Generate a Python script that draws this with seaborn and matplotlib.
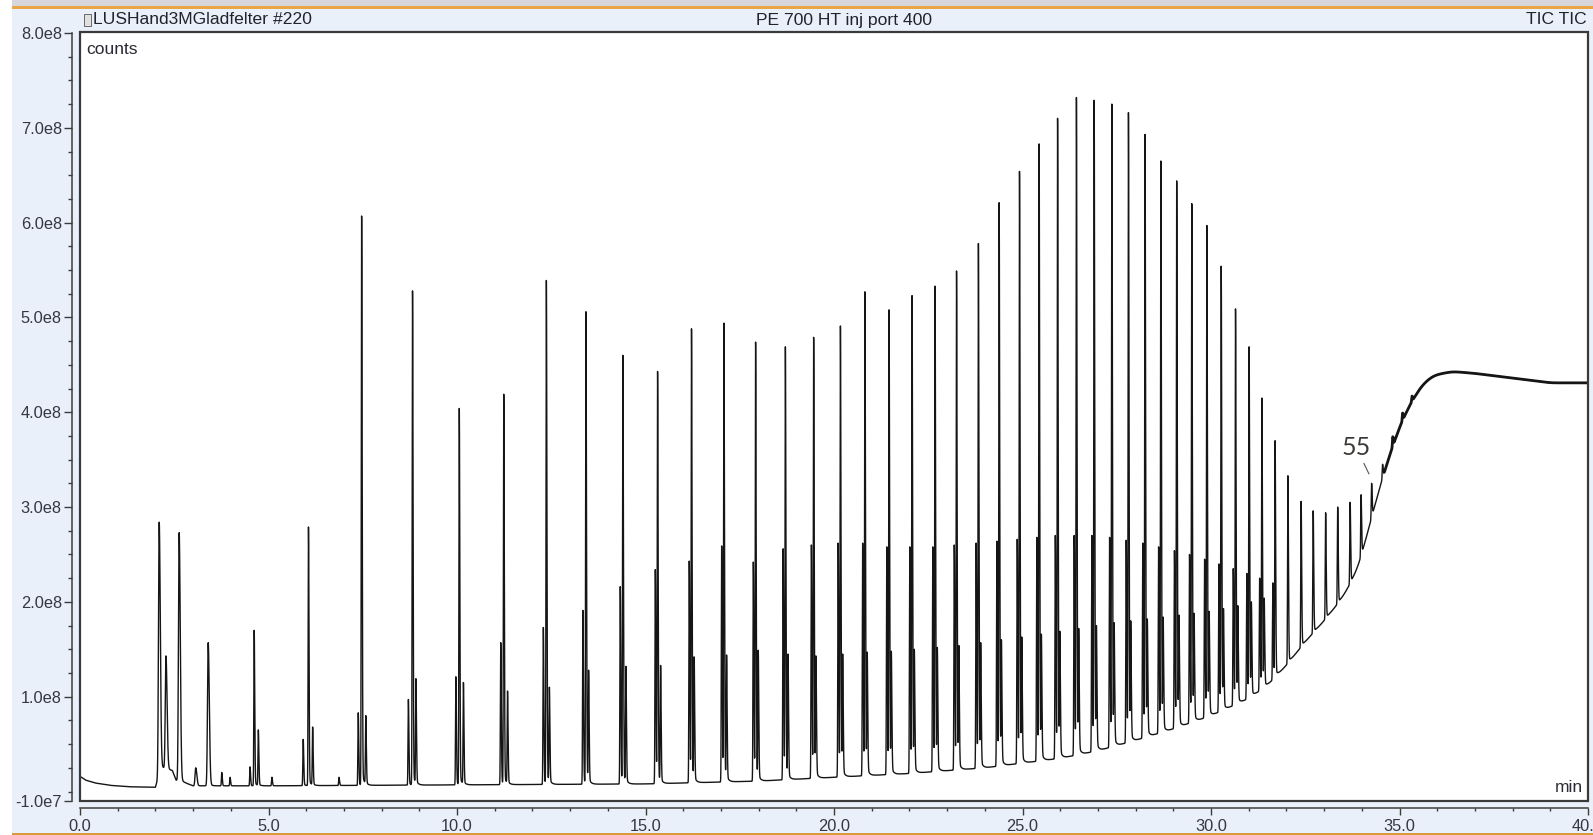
import numpy as np
import pandas as pd
import matplotlib
matplotlib.use("Agg")
import matplotlib.pyplot as plt
from matplotlib.patches import Rectangle
from matplotlib.ticker import FixedLocator
import seaborn as sns

# ---------------------------------------------------------------------------
# Chromatogram data (retention time in min, intensity in units of 1e8 counts)
# ---------------------------------------------------------------------------
# Main (alkene) peak of each homologue cluster plus the early light peaks
main_rt = [2.10, 2.63, 3.40, 4.62, 6.06, 7.47, 8.82, 10.06, 11.24, 12.37,
           13.42, 14.40, 15.32, 16.22, 17.08, 17.92, 18.71, 19.46, 20.17, 20.82,
           21.46, 22.07, 22.68, 23.25, 23.83, 24.38, 24.92, 25.44, 25.93, 26.43,
           26.90, 27.37, 27.81, 28.25, 28.67, 29.09, 29.49, 29.89, 30.27, 30.65,
           31.01, 31.35, 31.70, 32.04, 32.39, 32.71, 33.04, 33.36, 33.69, 33.98,
           34.26]
main_height = [2.84, 2.73, 1.57, 1.70, 2.79, 6.07, 5.28, 4.04, 4.19, 5.39,
               5.06, 4.60, 4.43, 4.88, 4.94, 4.74, 4.69, 4.79, 4.91, 5.27,
               5.08, 5.23, 5.33, 5.49, 5.78, 6.21, 6.54, 6.83, 7.10, 7.32,
               7.29, 7.25, 7.16, 6.93, 6.65, 6.44, 6.20, 5.97, 5.54, 5.09,
               4.69, 4.15, 3.70, 3.33, 3.06, 2.96, 2.94, 3.00, 3.05, 3.13,
               3.25]

# Alkadiene peaks eluting just before each main peak
diene_rt = [7.38, 8.71, 9.97, 11.16, 12.29, 13.34, 14.33, 15.26, 16.16, 17.02,
            17.86, 18.65, 19.40, 20.11, 20.76, 21.40, 22.01, 22.62, 23.19, 23.77,
            24.32, 24.86, 25.38, 25.87, 26.37, 26.84, 27.31, 27.75, 28.19, 28.61,
            29.03, 29.43, 29.83, 30.21, 30.59, 30.95, 31.29, 31.64]
diene_height = [0.83, 0.97, 1.21, 1.57, 1.73, 1.91, 2.16, 2.34, 2.43, 2.59,
                2.42, 2.56, 2.60, 2.62, 2.62, 2.58, 2.58, 2.58, 2.60, 2.62,
                2.64, 2.66, 2.68, 2.70, 2.70, 2.70, 2.68, 2.65, 2.62, 2.58,
                2.54, 2.50, 2.45, 2.40, 2.35, 2.30, 2.25, 2.20]

# Alkane peaks eluting just after each main peak
alkane_rt = [7.58, 8.91, 10.17, 11.34, 12.45, 13.49, 14.48, 15.40, 16.29, 17.15,
             17.99, 18.78, 19.52, 20.23, 20.88, 21.52, 22.13, 22.74, 23.31, 23.89,
             24.44, 24.98, 25.50, 25.99, 26.49, 26.96, 27.43, 27.87, 28.31, 28.73,
             29.15, 29.55, 29.95, 30.33, 30.71, 31.07, 31.41]
alkane_height = [0.80, 1.19, 1.15, 1.06, 1.10, 1.28, 1.32, 1.33, 1.42, 1.44,
                 1.49, 1.45, 1.43, 1.45, 1.47, 1.48, 1.50, 1.52, 1.54, 1.57,
                 1.60, 1.63, 1.66, 1.69, 1.72, 1.75, 1.78, 1.80, 1.82, 1.84,
                 1.86, 1.88, 1.90, 1.93, 1.96, 2.00, 2.04]

# Small individual peaks in the early part of the run and on the rising hump
minor_rt = [2.28, 3.07, 3.76, 3.98, 4.51, 4.73, 5.09, 5.92, 6.17, 6.87,
            34.55, 34.82, 35.08, 35.33]
minor_height = [1.43, 0.25, 0.20, 0.15, 0.26, 0.65, 0.15, 0.55, 0.68, 0.15,
                3.45, 3.74, 3.99, 4.17]

# Unresolved background (column bleed / wax hump)
baseline_rt = [0.0, 0.15, 0.4, 0.8, 1.3, 2.0, 2.15, 2.45, 2.55, 2.8, 3.0,
               5.0, 10.0, 15.0, 18.0, 20.0, 22.0, 24.0, 26.0, 27.0, 28.0, 29.0,
               30.0, 31.0, 31.5, 32.0, 32.5, 33.0, 33.5, 33.9, 34.1, 34.3, 34.6,
               35.0, 35.3, 35.6, 35.9, 36.4, 37.0, 38.0, 39.0, 40.0]
baseline_level = [0.16, 0.12, 0.09, 0.065, 0.05, 0.045, 0.25, 0.22, 0.12, 0.09, 0.06,
                  0.06, 0.07, 0.08, 0.11, 0.15, 0.19, 0.25, 0.35, 0.43, 0.54, 0.66,
                  0.80, 0.98, 1.12, 1.33, 1.58, 1.80, 2.05, 2.35, 2.65, 2.95, 3.38,
                  3.85, 4.10, 4.29, 4.39, 4.43, 4.41, 4.36, 4.31, 4.31]

peak_label = "55"
peak_label_rt = 34.26

header_left = "LUSHand3MGladfelter #220"
header_mid = "PE 700 HT inj port 400"
header_right = "TIC TIC"
y_unit = "counts"
x_unit = "min"

xtick_values = [0, 5, 10, 15, 20, 25, 30, 35, 40]
xtick_labels = ["0.0", "5.0", "10.0", "15.0", "20.0", "25.0", "30.0", "35.0", "40.0"]
ytick_values = [-1e7, 1e8, 2e8, 3e8, 4e8, 5e8, 6e8, 7e8, 8e8]
ytick_labels = ["-1.0e7", "1.0e8", "2.0e8", "3.0e8", "4.0e8", "5.0e8", "6.0e8", "7.0e8", "8.0e8"]

SCALE = 1e8

# ---------------------------------------------------------------------------
# Build the detector trace from the peak table
# ---------------------------------------------------------------------------
peak_rt = np.array(main_rt + diene_rt + alkane_rt + minor_rt)
peak_h = np.array(main_height + diene_height + alkane_height + minor_height) * SCALE
# early eluters are broader than the later homologues
peak_sigma = np.where(peak_rt < 3.6, 0.018, 0.009)


def peak_shape(t, rt, s):
    """Unit-height skewed peak with a short exponential tail."""
    d = t - rt
    core = np.where(d < 0, np.exp(-0.5 * (d / s) ** 2),
                    np.exp(-0.5 * (d / (1.6 * s)) ** 2))
    dp = np.clip(d, 0, None)
    tail = np.where(d > 0, 0.03 * (1 - np.exp(-dp / (2 * s))) * np.exp(-dp / 0.05), 0.0)
    return core + tail


time = np.linspace(0.0, 40.0, 20001)
dt = time[1] - time[0]

# background: linear between anchors, then softened so the hump has no corners
raw_bg = np.interp(time, baseline_rt, baseline_level)
kx = np.arange(-300, 301) * dt
kern = np.exp(-0.5 * (kx / 0.12) ** 2)
kern /= kern.sum()
smooth_bg = np.convolve(np.pad(raw_bg, 300, mode="edge"), kern, mode="valid")
bg_curve = np.where(time < 5.0, raw_bg, smooth_bg) * SCALE


def background(t):
    return np.interp(t, time, bg_curve)


# amplitudes chosen so that each apex reaches its tabulated height
M = peak_shape(peak_rt[:, None], peak_rt[None, :], peak_sigma[None, :])
amp = np.linalg.solve(M, peak_h - background(peak_rt))

signal = bg_curve + peak_shape(time[:, None], peak_rt[None, :], peak_sigma[None, :]) @ amp
trace = pd.DataFrame({"time": time, "counts": signal})

# ---------------------------------------------------------------------------
# Figure
# ---------------------------------------------------------------------------
sns.set_theme(style="white")
plt.rcParams["font.family"] = ["Liberation Sans", "DejaVu Sans"]

W, H = 1593, 835
fig = plt.figure(figsize=(W / 100, H / 100), dpi=100, facecolor="white")


def fx(px):
    return px / W


def fy(py):
    return 1 - py / H


# window chrome: light panel, grey strip and orange rules
fig.patches.append(Rectangle((fx(12), 0), 1 - fx(12), 1, transform=fig.transFigure,
                             facecolor="#e9f0fa", edgecolor="none", zorder=-10))
fig.patches.append(Rectangle((fx(12), fy(6)), 1 - fx(12), 6 / H, transform=fig.transFigure,
                             facecolor="#d7d7db", edgecolor="none", zorder=-9))
fig.patches.append(Rectangle((fx(12), fy(8.5)), 1 - fx(12), 2.5 / H, transform=fig.transFigure,
                             facecolor="#e9a647", edgecolor="none", zorder=-9))
fig.patches.append(Rectangle((fx(12), fy(835)), 1 - fx(12), 2.5 / H, transform=fig.transFigure,
                             facecolor="#d99a3e", edgecolor="none", zorder=-9))
# small document icon before the file name
fig.patches.append(Rectangle((fx(84), fy(26)), 7 / W, 12 / H, transform=fig.transFigure,
                             facecolor="#e0e0e0", edgecolor="#6a6a6a", lw=0.7, zorder=-8))

box_l, box_r, box_t, box_b = 80, 1588, 32, 801
ax = fig.add_axes([fx(box_l), fy(box_b), (box_r - box_l) / W, (box_b - box_t) / H])
ax.set_facecolor("white")

sns.lineplot(data=trace, x="time", y="counts", ax=ax, color="#151515",
             linewidth=1.0, estimator=None, sort=False, legend=False)
# the detector noise on the bleed plateau reads as a heavier trace
plateau = trace[trace["time"] >= 34.6]
sns.lineplot(data=plateau, x="time", y="counts", ax=ax, color="#151515",
             linewidth=2.0, estimator=None, sort=False, legend=False)

ax.set_xlim(0, 40)
ax.set_ylim(-1.0e7, 8.0105e8)
ax.set_xlabel("")
ax.set_ylabel("")

# plot frame
ax.add_patch(Rectangle((0, 0), 1, 1, transform=ax.transAxes, fill=False,
                       edgecolor="#3a3a3a", lw=1.6, clip_on=False, zorder=5))

axis_color = "#3c3c3c"
label_color = "#363644"
for side in ("top", "right"):
    ax.spines[side].set_visible(False)
ax.spines["left"].set_position(("outward", 5.8))
ax.spines["left"].set_bounds(-1e7, 8e8)
ax.spines["bottom"].set_position(("outward", 5.0))
ax.spines["bottom"].set_bounds(0, 40)
for side in ("left", "bottom"):
    ax.spines[side].set_color(axis_color)
    ax.spines[side].set_linewidth(1.1)

ax.xaxis.set_major_locator(FixedLocator(xtick_values))
ax.set_xticklabels(xtick_labels)
ax.xaxis.set_minor_locator(FixedLocator(np.arange(0, 40.5, 1.0)))
ax.yaxis.set_major_locator(FixedLocator(ytick_values))
ax.set_yticklabels(ytick_labels)
ax.yaxis.set_minor_locator(FixedLocator(np.arange(0, 8.0e8 + 1, 2.5e7)))

ax.tick_params(axis="x", which="major", bottom=True, length=5.2, width=1.0,
               direction="out", pad=2.5, color=axis_color, labelcolor=label_color,
               labelsize=11.8)
ax.tick_params(axis="x", which="minor", bottom=True, length=2.4, width=1.0,
               direction="out", color=axis_color)
ax.tick_params(axis="y", which="major", left=True, length=5.8, width=1.0,
               direction="out", pad=1.5, color=axis_color, labelcolor=label_color,
               labelsize=11.8)
ax.tick_params(axis="y", which="minor", left=True, length=3.0, width=1.0,
               direction="out", color=axis_color)

# unit captions inside the frame
bw, bh = box_r - box_l, box_b - box_t
ax.text(6 / bw, 1 - 17 / bh, y_unit, transform=ax.transAxes, ha="left", va="center",
        fontsize=12.5, color="#2a2a34")
ax.text(1 - 5 / bw, 14 / bh, x_unit, transform=ax.transAxes, ha="right", va="center",
        fontsize=12.5, color="#2a2a34")

# header line
fig.text(fx(93), fy(20), header_left, ha="left", va="center", fontsize=12.6, color="#22222c")
fig.text(fx(844), fy(20), header_mid, ha="center", va="center", fontsize=12.6, color="#22222c")
fig.text(fx(1587), fy(20), header_right, ha="right", va="center", fontsize=12.6, color="#22222c")

# carbon-number label on the last resolved homologue
label_idx = main_rt.index(peak_label_rt)
apex = main_height[label_idx] * SCALE
ax.annotate(peak_label, xy=(peak_label_rt - 0.07, apex + 0.1e8),
            xytext=(peak_label_rt - 0.41, apex + 0.38e8),
            ha="center", va="center", fontsize=18, color="#3e3a38",
            family=["Lato", "DejaVu Sans"],
            arrowprops=dict(arrowstyle="-", color="#555555", lw=0.8,
                            shrinkA=1, shrinkB=0))

fig.savefig("out.png", dpi=100, facecolor=fig.get_facecolor())
